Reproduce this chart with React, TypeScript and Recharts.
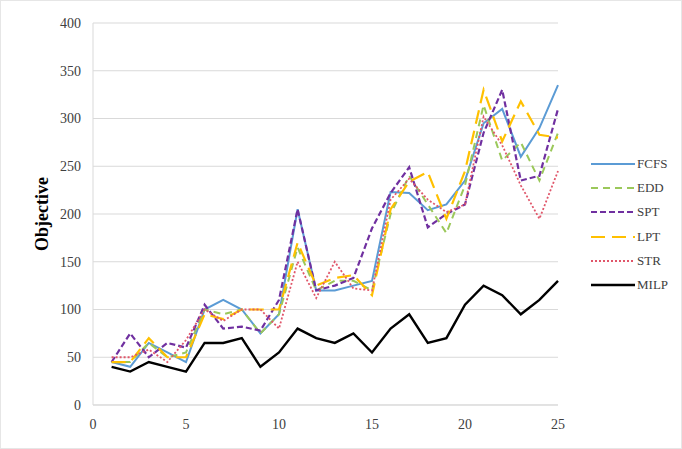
import { LineChart, Line, XAxis, YAxis, CartesianGrid } from "recharts";

const instances = [1, 2, 3, 4, 5, 6, 7, 8, 9, 10, 11, 12, 13, 14, 15, 16, 17, 18, 19, 20, 21, 22, 23, 24, 25];
const fcfs = [45, 40, 65, 55, 45, 100, 110, 100, 75, 95, 205, 120, 120, 125, 130, 223, 222, 204, 210, 235, 295, 310, 260, 290, 335];
const edd = [45, 45, 65, 50, 55, 100, 95, 100, 75, 95, 165, 120, 130, 130, 120, 200, 240, 210, 180, 230, 314, 256, 275, 235, 285];
const spt = [45, 75, 50, 65, 60, 105, 80, 82, 78, 110, 205, 120, 125, 133, 185, 222, 249, 186, 200, 210, 285, 330, 235, 240, 310];
const lpt = [45, 45, 70, 50, 50, 95, 90, 100, 100, 100, 170, 125, 133, 136, 115, 205, 234, 244, 195, 245, 330, 276, 318, 283, 280];
const str = [50, 50, 58, 45, 68, 100, 88, 100, 100, 80, 150, 112, 150, 122, 120, 215, 237, 215, 202, 210, 302, 272, 230, 195, 245];
const milp = [40, 35, 45, 40, 35, 65, 65, 70, 40, 55, 80, 70, 65, 75, 55, 80, 95, 65, 70, 105, 125, 115, 95, 110, 130];

const xTicks = [0, 5, 10, 15, 20, 25];
const yTicks = [0, 50, 100, 150, 200, 250, 300, 350, 400];

const data = instances.map((x, i) => ({
  x,
  FCFS: fcfs[i],
  EDD: edd[i],
  SPT: spt[i],
  LPT: lpt[i],
  STR: str[i],
  MILP: milp[i],
}));

const series = [
  { key: "FCFS", color: "#5b9bd5", dash: undefined, width: 2 },
  { key: "EDD", color: "#9bc85a", dash: "7 5", width: 2 },
  { key: "SPT", color: "#7030a0", dash: "6 3", width: 2.2 },
  { key: "LPT", color: "#ffc000", dash: "14 7", width: 2.2 },
  { key: "STR", color: "#e0566a", dash: "2 2", width: 1.8 },
  { key: "MILP", color: "#000000", dash: undefined, width: 2.4 },
];

const font = "'Liberation Serif', 'Times New Roman', serif";

function LegendBox() {
  return (
    <div style={{ position: "absolute", left: 590, top: 151, fontFamily: font, fontSize: 13, color: "#404040" }}>
      {series.map((s) => (
        <div key={s.key} style={{ display: "flex", alignItems: "center", height: 24.2 }}>
          <svg width={44} height={10}>
            <line x1={0} y1={5} x2={44} y2={5} stroke={s.color} strokeWidth={s.width} strokeDasharray={s.dash} />
          </svg>
          <span style={{ marginLeft: 2 }}>{s.key}</span>
        </div>
      ))}
    </div>
  );
}

export default function App() {
  return (
    <div style={{ position: "fixed", left: 0, top: 0, width: 682, height: 449, background: "#fff", boxSizing: "border-box", border: "1px solid #e6e6e6" }}>
      <LineChart width={680} height={447} data={data} margin={{ top: 22, right: 123, bottom: 13, left: 42 }}>
        <CartesianGrid horizontal vertical={false} stroke="#d9d9d9" />
        <XAxis
          dataKey="x"
          type="number"
          domain={[0, 25]}
          ticks={xTicks}
          height={30}
          axisLine={{ stroke: "#d9d9d9" }}
          tickLine={false}
          tick={{ fill: "#404040", fontSize: 14, fontFamily: font }}
          tickMargin={8}
        />
        <YAxis
          domain={[0, 400]}
          ticks={yTicks}
          width={50}
          axisLine={{ stroke: "#d9d9d9" }}
          tickLine={false}
          tick={{ fill: "#404040", fontSize: 14, fontFamily: font }}
          tickMargin={6}
          label={{
            value: "Objective",
            angle: -90,
            position: "insideLeft",
            dx: -6,
            style: { fontFamily: font, fontSize: 18, fontWeight: "bold", fill: "#000", textAnchor: "middle" },
          }}
        />
        {series.map((s) => (
          <Line
            key={s.key}
            dataKey={s.key}
            stroke={s.color}
            strokeWidth={s.width}
            strokeDasharray={s.dash}
            dot={false}
            isAnimationActive={false}
          />
        ))}
      </LineChart>
      <LegendBox />
    </div>
  );
}
